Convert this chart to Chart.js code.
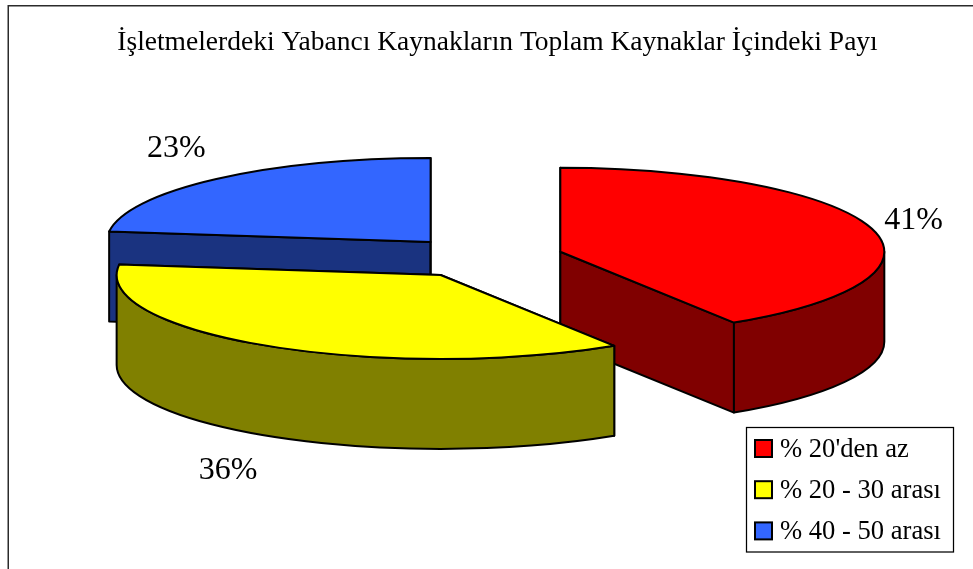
<!DOCTYPE html>
<html><head><meta charset="utf-8">
<style>html,body{margin:0;padding:0;background:#fff}#w{position:relative;width:973px;height:569px}</style>
<script src="https://cdn.jsdelivr.net/npm/chart.js@4/dist/chart.umd.min.js"></script>
</head><body><div id="w"><canvas id="c" width="973" height="569"></canvas></div>
<script>
const titleText = "İşletmelerdeki Yabancı Kaynakların Toplam Kaynaklar İçindeki Payı";
const categories = ["% 20'den az", "% 20 - 30 arası", "% 40 - 50 arası"];
const values = [41, 36, 23];
const topColors = ["#FF0000", "#FFFF00", "#3366FF"];
const wallColors = ["#800000", "#808000", "#1A3380"];
const paintOrder = [2, 0, 1];
const labelShift = [[42, -8], [-39, 35], [-40, -30]];

const FONT = '"Liberation Serif","Times New Roman",serif';
const SQUASH = 0.259, DEPTH = 90, EXPLODE = 80, RADIUS = 324, SHIFT_X = -14;

const pie3d = {
  id: 'pie3d',
  beforeDraw(chart) {
    const c = chart.ctx;
    c.save();
    c.strokeStyle = '#2b2b2b'; c.lineWidth = 1.5;
    c.beginPath(); c.moveTo(8.25, 569); c.lineTo(8.25, 5.75); c.lineTo(973, 5.75); c.stroke();
    c.restore();
  },
  beforeDatasetsDraw(chart) {
    const c = chart.ctx, arcs = chart.getDatasetMeta(0).data;
    const PI = Math.PI;
    const geo = a => {
      const mid = (a.startAngle + a.endAngle) / 2;
      return { cx: a.x + SHIFT_X + EXPLODE * Math.cos(mid), cy: a.y + SQUASH * EXPLODE * Math.sin(mid),
               rx: a.outerRadius, ry: a.outerRadius * SQUASH, a0: a.startAngle, a1: a.endAngle };
    };
    c.save();
    c.lineJoin = 'round'; c.lineWidth = 2; c.strokeStyle = '#000';
    paintOrder.forEach(i => {
      const a = arcs[i], g = geo(a);
      c.fillStyle = wallColors[i];
      [g.a0, g.a1].forEach(t => {
        const x = g.cx + g.rx * Math.cos(t), y = g.cy + g.ry * Math.sin(t);
        c.beginPath();
        c.moveTo(g.cx, g.cy); c.lineTo(x, y); c.lineTo(x, y + DEPTH); c.lineTo(g.cx, g.cy + DEPTH);
        c.closePath(); c.fill(); c.stroke();
      });
      const s = Math.max(g.a0, 0), e = Math.min(g.a1, PI);
      if (e > s) {
        c.beginPath();
        c.ellipse(g.cx, g.cy, g.rx, g.ry, 0, s, e);
        c.ellipse(g.cx, g.cy + DEPTH, g.rx, g.ry, 0, e, s, true);
        c.closePath(); c.fill(); c.stroke();
      }
      c.save();
      c.translate(g.cx, g.cy); c.scale(1, SQUASH); c.translate(-a.x, -a.y);
      a.draw(c);
      c.restore();
      c.beginPath();
      c.moveTo(g.cx, g.cy);
      c.ellipse(g.cx, g.cy, g.rx, g.ry, 0, g.a0, g.a1);
      c.closePath(); c.stroke();
    });
    c.restore();
    return false;
  },
  afterDraw(chart) {
    const c = chart.ctx, arcs = chart.getDatasetMeta(0).data;
    c.save();
    c.fillStyle = '#000'; c.textAlign = 'center'; c.textBaseline = 'middle';
    c.font = '32px ' + FONT;
    arcs.forEach((a, i) => {
      const mid = (a.startAngle + a.endAngle) / 2;
      const cx = a.x + SHIFT_X + EXPLODE * Math.cos(mid), cy = a.y + SQUASH * EXPLODE * Math.sin(mid);
      const depth = Math.sin(mid) > 0 ? DEPTH : 0;
      c.fillText(values[i] + '%', cx + a.outerRadius * Math.cos(mid) + labelShift[i][0],
                 cy + a.outerRadius * SQUASH * Math.sin(mid) + depth + labelShift[i][1]);
    });
    // legend
    c.strokeStyle = '#000'; c.lineWidth = 1.25;
    c.fillStyle = '#fff';
    c.fillRect(746.5, 427.5, 207, 124.5);
    c.strokeRect(746.5, 427.5, 207, 124.5);
    c.textAlign = 'left';
    c.font = '26.6px ' + FONT;
    categories.forEach((t, i) => {
      const y = 449 + i * 41.2;
      c.fillStyle = topColors[i]; c.strokeStyle = '#000'; c.lineWidth = 2;
      c.fillRect(755, y - 9, 17, 17); c.strokeRect(755, y - 9, 17, 17);
      c.fillStyle = '#000';
      c.fillText(t, 780, y + 1);
    });
    c.restore();
  }
};

new Chart(document.getElementById('c'), {
  type: 'pie',
  data: { labels: categories, datasets: [{ data: values, backgroundColor: topColors, borderWidth: 0, radius: RADIUS }] },
  options: {
    responsive: false, animation: false,
    layout: { padding: { left: 22, right: 0, top: 0, bottom: 113 } },
    plugins: {
      legend: { display: false }, tooltip: { enabled: false },
      title: { display: true, text: titleText, color: '#000',
        font: { family: FONT, size: 27.5, weight: 'normal', lineHeight: 1.2 },
        padding: { top: 26, bottom: 0 } }
    }
  },
  plugins: [pie3d]
});
</script></body></html>
